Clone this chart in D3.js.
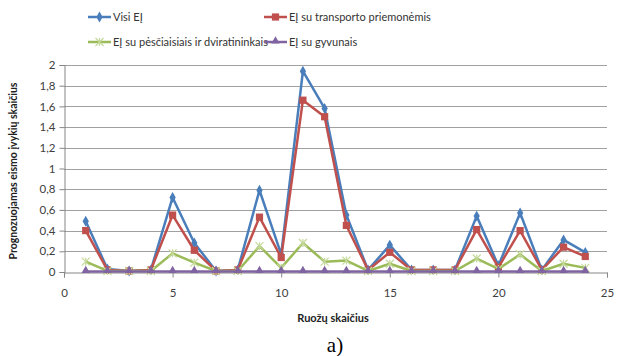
<!DOCTYPE html>
<html>
<head>
<meta charset="utf-8">
<script src="https://cdn.jsdelivr.net/npm/d3@7"></script>
<style>
  body { margin: 0; background: #fff; }
  svg text { font-family: Lato, "Open Sans", sans-serif; }
</style>
</head>
<body>
<div id="chart"></div>
<script>
  // sections (x) and series values
  var sections = [1, 2, 3, 4, 5, 6, 7, 8, 9, 10, 11, 12, 13, 14, 15, 16, 17, 18, 19, 20, 21, 22, 23, 24];
  var visi = [0.49, 0.03, 0.01, 0.02, 0.72, 0.28, 0.01, 0.02, 0.79, 0.17, 1.94, 1.58, 0.55, 0.02, 0.26, 0.02, 0.02, 0.02, 0.54, 0.06, 0.57, 0.02, 0.31, 0.19];
  var transporto = [0.40, 0.02, 0.01, 0.02, 0.55, 0.21, 0.01, 0.02, 0.53, 0.14, 1.66, 1.50, 0.45, 0.02, 0.19, 0.02, 0.02, 0.02, 0.41, 0.045, 0.40, 0.02, 0.24, 0.15];
  var pesciaisiais = [0.10, 0.01, 0.01, 0.01, 0.18, 0.09, 0.01, 0.01, 0.25, 0.04, 0.28, 0.10, 0.11, 0.01, 0.08, 0.01, 0.01, 0.01, 0.13, 0.03, 0.17, 0.01, 0.08, 0.04];
  var gyvunais = [0.005, 0.005, 0.005, 0.005, 0.005, 0.005, 0.005, 0.005, 0.005, 0.005, 0.005, 0.005, 0.005, 0.005, 0.005, 0.005, 0.005, 0.005, 0.005, 0.005, 0.005, 0.005, 0.005, 0.005];
  var seriesNames = ['Visi EĮ', 'EĮ su transporto priemonėmis', 'EĮ su pėsčiaisiais ir dviratininkais', 'EĮ su gyvunais'];
  var xTicks = [0, 5, 10, 15, 20, 25];
  var yTicks = [0, 0.2, 0.4, 0.6, 0.8, 1, 1.2, 1.4, 1.6, 1.8, 2];

  var series = [
    { name: seriesNames[0], values: visi, color: '#4a7ebb', marker: 'diamond' },
    { name: seriesNames[1], values: transporto, color: '#c0504d', marker: 'square' },
    { name: seriesNames[2], values: pesciaisiais, color: '#9bbb59', marker: 'star' },
    { name: seriesNames[3], values: gyvunais, color: '#8064a2', marker: 'triangle' }
  ];

  var W = 621, H = 356;
  var svg = d3.select('#chart').append('svg')
    .attr('width', W).attr('height', H);

  var x = d3.scaleLinear().domain([0, 25]).range([64, 607]);
  var y = d3.scaleLinear().domain([0, 2]).range([272, 65]);

  // gridlines
  svg.append('g').selectAll('line')
    .data(yTicks.slice(1))
    .enter().append('line')
    .attr('x1', x(0)).attr('x2', x(25))
    .attr('y1', function(d) { return Math.round(y(d)) + 0.5; })
    .attr('y2', function(d) { return Math.round(y(d)) + 0.5; })
    .attr('stroke', '#a0a0a0').attr('stroke-width', 1);

  var fmt = function(d) { return String(d).replace('.', ','); };

  var yAxis = svg.append('g')
    .attr('transform', 'translate(' + (Math.round(x(0)) + 0.5) + ',0)')
    .call(d3.axisLeft(y).tickValues(yTicks).tickFormat(fmt).tickSize(5).tickPadding(4));
  var xAxis = svg.append('g')
    .attr('transform', 'translate(0,' + (Math.round(y(0)) + 0.5) + ')')
    .call(d3.axisBottom(x).tickValues(xTicks).tickSize(5).tickPadding(11));

  [xAxis, yAxis].forEach(function(a) {
    a.select('.domain').attr('stroke', '#868686');
    a.selectAll('.tick line').attr('stroke', '#868686');
    a.selectAll('.tick text').attr('fill', '#404040')
      .style('font-family', 'Lato, sans-serif')
      .style('font-size', '11.5px');
  });

  // lines
  var line = d3.line()
    .x(function(d, i) { return x(sections[i]); })
    .y(function(d) { return y(d); });

  function drawMarker(g, type, color, cx, cy) {
    if (type === 'diamond') {
      g.append('path').attr('d', d3.symbol(d3.symbolDiamond, 34)())
        .attr('transform', 'translate(' + cx + ',' + cy + ')')
        .attr('fill', color);
    } else if (type === 'square') {
      g.append('path').attr('d', d3.symbol(d3.symbolSquare, 52)())
        .attr('transform', 'translate(' + cx + ',' + cy + ')')
        .attr('fill', color);
    } else if (type === 'triangle') {
      g.append('path').attr('d', d3.symbol(d3.symbolTriangle, 30)())
        .attr('transform', 'translate(' + cx + ',' + (cy - 1) + ')')
        .attr('fill', color);
    } else {
      var r = 4;
      var p = 'M' + (cx - r) + ',' + (cy - r) + 'L' + (cx + r) + ',' + (cy + r) +
        'M' + (cx - r) + ',' + (cy + r) + 'L' + (cx + r) + ',' + (cy - r) +
        'M' + cx + ',' + (cy - r) + 'L' + cx + ',' + (cy + r);
      g.append('path').attr('d', p).attr('stroke', '#c4d99a').attr('stroke-width', 1.2).attr('fill', 'none');
    }
  }

  series.forEach(function(s) {
    var g = svg.append('g');
    g.append('path')
      .datum(s.values)
      .attr('d', line)
      .attr('fill', 'none')
      .attr('stroke', s.color)
      .attr('stroke-width', 2.5)
      .attr('stroke-linejoin', 'round');
    s.values.forEach(function(v, i) {
      drawMarker(g, s.marker, s.color, x(sections[i]), y(v));
    });
  });

  // legend
  var legendPos = [
    { lx: 88, ly: 17 }, { lx: 264, ly: 17 },
    { lx: 88, ly: 42 }, { lx: 264, ly: 42 }
  ];
  series.forEach(function(s, i) {
    var p = legendPos[i];
    var g = svg.append('g');
    g.append('line')
      .attr('x1', p.lx).attr('x2', p.lx + 23)
      .attr('y1', p.ly).attr('y2', p.ly)
      .attr('stroke', s.color).attr('stroke-width', 2.5);
    drawMarker(g, s.marker, s.color, p.lx + 11.5, p.ly);
    g.append('text')
      .attr('x', p.lx + 25).attr('y', p.ly + 4)
      .attr('fill', '#333')
      .style('font-size', '11px')
      .text(s.name);
  });

  // axis titles
  svg.append('text')
    .attr('transform', 'translate(17,171) rotate(-90)')
    .attr('text-anchor', 'middle')
    .attr('fill', '#222')
    .style('font-size', '10.5px').style('font-weight', 'bold')
    .text('Prognozuojamas eismo įvykių skaičius');

  svg.append('text')
    .attr('x', 333).attr('y', 322)
    .attr('text-anchor', 'middle')
    .attr('fill', '#222')
    .style('font-size', '11px').style('font-weight', 'bold')
    .text('Ruožų skaičius');

  svg.append('text')
    .attr('x', 335).attr('y', 352)
    .attr('text-anchor', 'middle')
    .attr('fill', '#000')
    .style('font-family', '"Liberation Serif", "DejaVu Serif", serif')
    .style('font-size', '21px')
    .text('a)');
</script>
</body>
</html>
